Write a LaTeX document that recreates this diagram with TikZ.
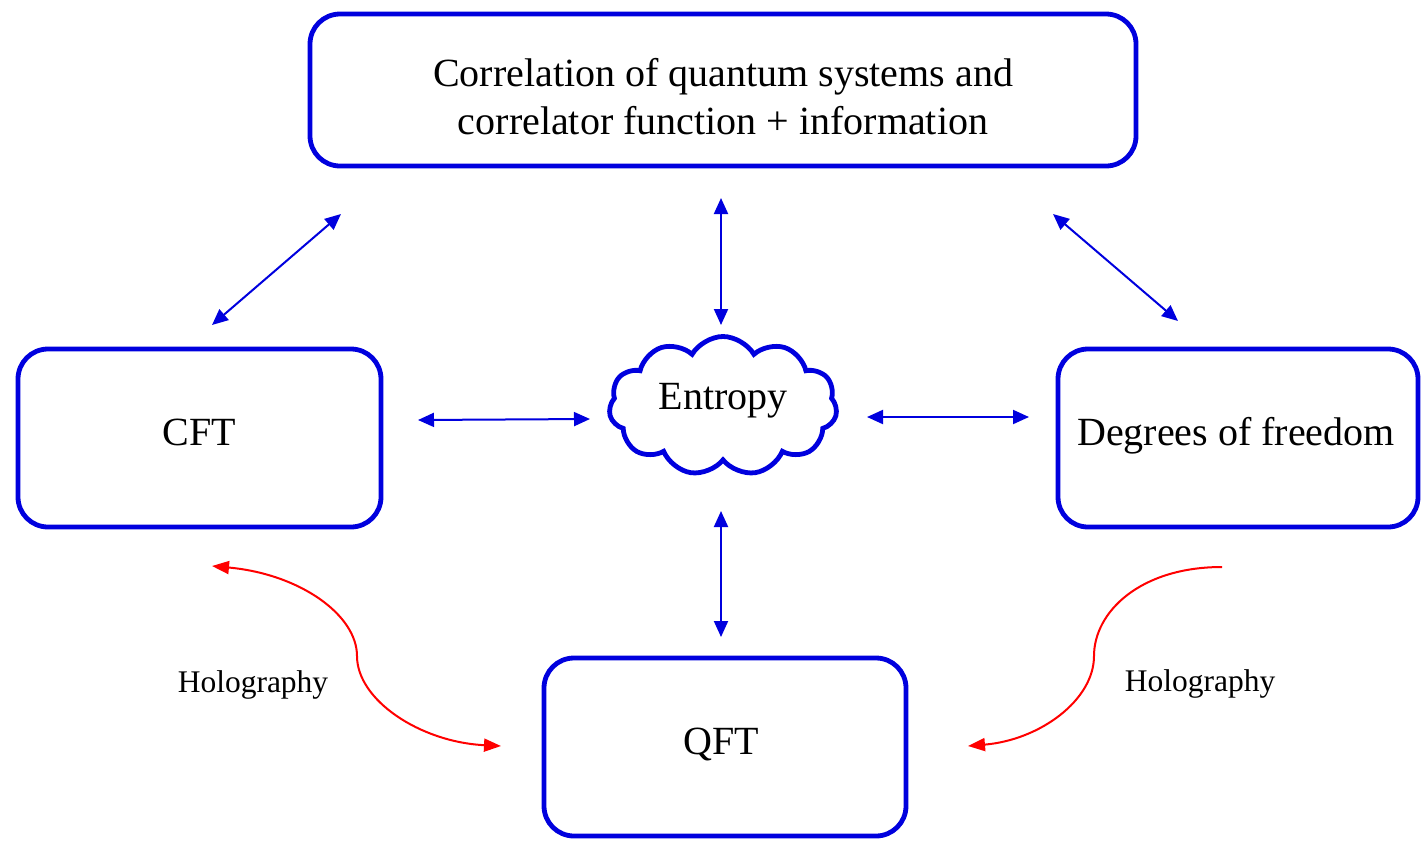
\documentclass[tikz,border=0pt]{standalone}
\usepackage{fontspec}
\setmainfont{Liberation Serif}
\usetikzlibrary{arrows.meta,shapes.symbols}
\definecolor{boxblue}{RGB}{0,0,222}
\definecolor{holored}{RGB}{255,0,0}
\tikzset{
  roundbox/.style={draw=boxblue, line width=4.8pt, rounded corners=30pt, inner sep=0pt,
    font=\fontsize{40}{48}\selectfont, align=center},
  bigtext/.style={font=\fontsize{40}{48}\selectfont, inner sep=0pt, align=center},
  smalltext/.style={font=\fontsize{31.5}{36}\selectfont, inner sep=0pt},
  link/.style={draw=boxblue, line width=2pt, {Triangle[length=16pt,width=14pt]}-{Triangle[length=16pt,width=14pt]}},
  holo/.style={draw=holored, line width=2pt},
  holotip/.tip={Triangle[length=17pt,width=13pt]}
}
\begin{document}
\begin{tikzpicture}[x=1pt,y=-1pt]
\useasboundingbox (0,0) rectangle (1422,844);
% boxes
\node[roundbox, minimum width=826pt, minimum height=152pt] (corr) at (723,90) {};
\node[bigtext] (corrtext) at (723,97) {Correlation of quantum systems and\\correlator function + information};
\node[roundbox, minimum width=363pt, minimum height=178pt] (cft) at (199.5,438) {};
\node[bigtext] (cfttext) at (199,432) {CFT};
\node[roundbox, minimum width=360pt, minimum height=178pt] (dof) at (1238,438) {};
\node[bigtext] (doftext) at (1236,436) {Degrees of freedom};
\node[roundbox, minimum width=362pt, minimum height=178pt] (qft) at (725,747) {};
\node[bigtext] (qfttext) at (721,744) {QFT};
% cloud
\node[cloud, draw=boxblue, line width=4.8pt, cloud puffs=11, cloud puff arc=120, aspect=1.65,
      minimum width=228pt, minimum height=139pt, inner sep=0pt] (cloud) at (723,406) {};
\node[bigtext] (entropy) at (723,401) {Entropy};
% arrow end points
\coordinate (a1) at (212,325); \coordinate (a2) at (341,214);
\coordinate (b1) at (721,198); \coordinate (b2) at (721,325);
\coordinate (c1) at (1053,214); \coordinate (c2) at (1178,321);
\coordinate (d1) at (418,420); \coordinate (d2) at (590,419);
\coordinate (e1) at (867,417); \coordinate (e2) at (1029,417);
\coordinate (f1) at (721,511); \coordinate (f2) at (721,637);
\draw[link] (a1) -- (a2);
\draw[link] (b1) -- (b2);
\draw[link] (c1) -- (c2);
\draw[link] (d1) -- (d2);
\draw[link] (e1) -- (e2);
\draw[link] (f1) -- (f2);
% holography curves
\coordinate (hl1) at (212,566); \coordinate (hlm) at (357,656); \coordinate (hl2) at (501,746);
\coordinate (hr1) at (1222,567); \coordinate (hrm) at (1094,656); \coordinate (hr2) at (968,746);
\draw[holo, holotip-holotip] (hl1) .. controls (300,574) and (357,615) .. (hlm)
   .. controls (357,700) and (420,742) .. (hl2);
\draw[holo, -holotip] (hr1) .. controls (1140,567) and (1094,612) .. (hrm)
   .. controls (1094,700) and (1040,740) .. (hr2);
\node[smalltext] (hlabel1) at (253,685) {Holography};
\node[smalltext] (hlabel2) at (1200,684) {Holography};
\end{tikzpicture}
\end{document}
